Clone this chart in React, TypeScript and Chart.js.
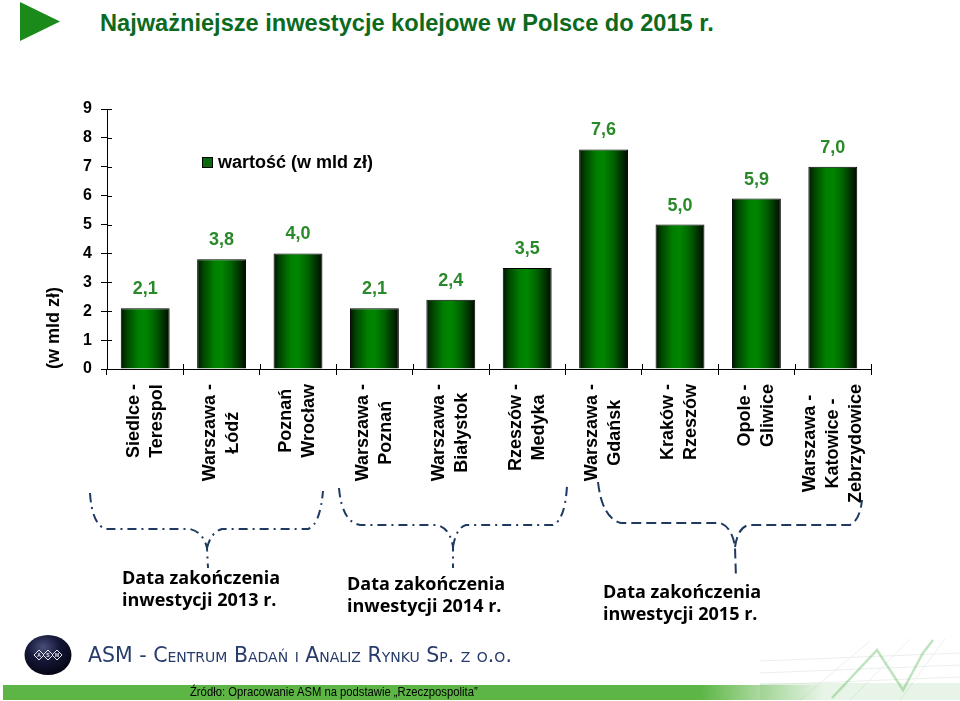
import React, { useEffect, useRef } from "react";
import { Chart, registerables } from "chart.js";
Chart.register(...registerables);

// ---------- data ----------
const TITLE = "Najważniejsze inwestycje kolejowe w Polsce do 2015 r.";
const categories: string[][] = [
  ["Siedlce -", "Terespol"],
  ["Warszawa -", "Łódź"],
  ["Poznań", "Wrocław"],
  ["Warszawa -", "Poznań"],
  ["Warszawa -", "Białystok"],
  ["Rzeszów -", "Medyka"],
  ["Warszawa -", "Gdańsk"],
  ["Kraków -", "Rzeszów"],
  ["Opole -", "Gliwice"],
  ["Warszawa -", "Katowice -", "Zebrzydowice"],
];
const values = [2.1, 3.8, 4.0, 2.1, 2.4, 3.5, 7.6, 5.0, 5.9, 7.0];
const seriesName = "wartość (w mld zł)";
const yAxisTitle = "(w mld zł)";
const yMin = 0;
const yMax = 9;
const yStep = 1;
const note2013 = ["Data zakończenia", "inwestycji 2013 r."];
const note2014 = ["Data zakończenia", "inwestycji 2014 r."];
const note2015 = ["Data zakończenia", "inwestycji 2015 r."];
const logoText = "ASM - Centrum Badań i Analiz Rynku Sp. z o.o.";
const sourceText = "Źródło: Opracowanie ASM na podstawie „Rzeczpospolita”";

// ---------- layout ----------
const W = 960;
const CH = 530;
const PLOT = { top: 109, bottom: 369, left: 107, right: 871 };
const FONT = "'Liberation Sans', Arial, Helvetica, sans-serif";
const BAR_PCT = 0.64;
const LABEL_GREEN = "#2a8a2a";
const BRACE = "#1f3a60";

const fmt = (v: number) => v.toFixed(1).replace(".", ",");

const barFill = (ctx: any) => {
  const chart = ctx.chart;
  const xs = chart.scales && chart.scales.x;
  if (!xs || ctx.type !== "data" || !chart.chartArea) return "#007700";
  const c = xs.getPixelForValue(ctx.dataIndex);
  const half = ((xs.width / categories.length) * BAR_PCT) / 2;
  const g = chart.ctx.createLinearGradient(c - half, 0, c + half, 0);
  g.addColorStop(0, "#001400");
  g.addColorStop(0.12, "#004400");
  g.addColorStop(0.35, "#007e00");
  g.addColorStop(0.5, "#008600");
  g.addColorStop(0.7, "#006200");
  g.addColorStop(0.9, "#002800");
  g.addColorStop(1, "#000a00");
  return g;
};

const decorPlugin = {
  id: "decor",
  afterDatasetsDraw(chart: any) {
    const { ctx } = chart;
    const meta = chart.getDatasetMeta(0);
    ctx.save();
    ctx.fillStyle = LABEL_GREEN;
    ctx.font = `bold 18px ${FONT}`;
    ctx.textAlign = "center";
    ctx.textBaseline = "middle";
    meta.data.forEach((bar: any, i: number) => {
      ctx.fillText(fmt(values[i]), bar.x, bar.y - 19);
    });
    ctx.restore();
  },
  afterDraw(chart: any) {
    const { ctx, chartArea } = chart;
    const xs = chart.scales.x;
    const ys = chart.scales.y;
    ctx.save();
    // inner half of crossing tick marks
    ctx.strokeStyle = "#000";
    ctx.lineWidth = 1;
    ctx.beginPath();
    ys.ticks.forEach((_t: any, i: number) => {
      const y = Math.round(ys.getPixelForTick(i)) + 0.5;
      ctx.moveTo(chartArea.left, y);
      ctx.lineTo(chartArea.left + 5, y);
    });
    for (let i = 0; i <= categories.length; i++) {
      const x = Math.round(xs.getPixelForValue(i - 0.5)) + 0.5;
      ctx.moveTo(x, chartArea.bottom);
      ctx.lineTo(x, chartArea.bottom - 5);
    }
    ctx.stroke();

    // category labels, rotated, centred lines
    ctx.fillStyle = "#000";
    ctx.font = `bold 18px ${FONT}`;
    ctx.textAlign = "center";
    ctx.textBaseline = "middle";
    const labels = chart.data.labels as string[][];
    labels.forEach((lines, i) => {
      const cx = xs.getPixelForValue(i);
      const maxW = Math.max(...lines.map((l) => ctx.measureText(l).width));
      const top = chartArea.bottom + 15;
      ctx.save();
      ctx.translate(cx, top + maxW / 2);
      ctx.rotate(-Math.PI / 2);
      lines.forEach((l, j) => {
        ctx.fillText(l, 0, (j - (lines.length - 1) / 2) * 23);
      });
      ctx.restore();
    });

    // legend
    const ds = chart.data.datasets[0];
    ctx.fillStyle = "#0a6a0a";
    ctx.fillRect(202, 157, 11, 11);
    ctx.strokeStyle = "#000";
    ctx.strokeRect(202.5, 157.5, 10, 10);
    ctx.fillStyle = "#000";
    ctx.font = `bold 18px ${FONT}`;
    ctx.textAlign = "left";
    ctx.textBaseline = "middle";
    ctx.fillText(ds.label, 218, 163);
    ctx.restore();
  },
};

function Notes({ lines, left, top }: { lines: string[]; left: number; top: number }) {
  return (
    <div
      style={{
        position: "absolute",
        left,
        top,
        fontFamily: "'Open Sans', 'DejaVu Sans', sans-serif",
        fontWeight: 700,
        fontSize: 18,
        lineHeight: "22px",
        color: "#000",
        whiteSpace: "nowrap",
      }}
    >
      {lines.map((l, i) => (
        <div key={i}>{l}</div>
      ))}
    </div>
  );
}

export default function App() {
  const ref = useRef<HTMLCanvasElement | null>(null);

  useEffect(() => {
    if (!ref.current) return;
    const chart = new Chart(ref.current, {
      type: "bar",
      data: {
        labels: categories as any,
        datasets: [
          {
            label: seriesName,
            data: values,
            backgroundColor: barFill as any,
            borderColor: "#000",
            borderWidth: 1,
            barPercentage: BAR_PCT,
            categoryPercentage: 1,
          },
        ],
      },
      options: {
        responsive: false,
        animation: false,
        devicePixelRatio: 1,
        layout: { padding: { left: 0, top: PLOT.top, right: W - PLOT.right, bottom: 0 } },
        plugins: {
          legend: { display: false },
          tooltip: { enabled: false },
          title: { display: false },
        },
        scales: {
          x: {
            offset: true,
            grid: { offset: true, drawOnChartArea: false, drawTicks: true, tickLength: 6, color: "#000" },
            border: { color: "#000", width: 1 },
            ticks: { display: false },
            afterFit: (s: any) => {
              s.height = CH - PLOT.bottom;
            },
          },
          y: {
            min: yMin,
            max: yMax,
            ticks: {
              stepSize: yStep,
              color: "#000",
              font: { family: FONT, size: 16, weight: "bold" },
              padding: 9,
            },
            grid: { drawOnChartArea: false, drawTicks: true, tickLength: 6, color: "#000" },
            border: { color: "#000", width: 1 },
            title: {
              display: true,
              text: yAxisTitle,
              align: "start",
              color: "#000",
              font: { family: FONT, size: 18, weight: "bold" },
              padding: { top: 43, bottom: 0 },
            },
            afterFit: (s: any) => {
              s.width = PLOT.left;
            },
          },
        },
      } as any,
      plugins: [decorPlugin],
    });
    return () => chart.destroy();
  }, []);

  return (
    <div style={{ position: "absolute", left: 0, top: 0, width: W, height: 701, background: "#fff", overflow: "hidden" }}>
      {/* title */}
      <svg width={70} height={50} style={{ position: "absolute", left: 0, top: 0 }}>
        <polygon points="20,2 20,41 60,21.5" fill="#1a8a1a" />
      </svg>
      <div
        style={{
          position: "absolute",
          left: 100,
          top: 8,
          fontFamily: FONT,
          fontWeight: 700,
          fontSize: 23.6,
          color: "#0b6a1e",
          whiteSpace: "nowrap",
          lineHeight: "30px",
        }}
      >
        {TITLE}
      </div>

      <canvas ref={ref} width={W} height={CH} style={{ position: "absolute", left: 0, top: 0, width: W, height: CH }} />

      {/* braces */}
      <svg width={W} height={701} style={{ position: "absolute", left: 0, top: 0, pointerEvents: "none" }}>
        <g fill="none" stroke={BRACE} strokeWidth={2}>
          <path
            strokeDasharray="9 5 2 5"
            d="M 90 493 Q 92 525 106 529 L 190 529 Q 203 532 207 548 L 208 568 M 207 548 Q 211 532 222 529 L 308 529 Q 320 525 323 491"
          />
          <path
            strokeDasharray="9 5 2 5"
            d="M 339 488 Q 342 522 360 525 L 437 525 Q 450 528 453 547 L 453 568 M 453 547 Q 456 528 466 525 L 553 525 Q 565 520 567 486"
          />
          <path
            strokeDasharray="10 5"
            d="M 598 482 Q 602 518 621 523 L 720 523 Q 732 527 735 547 L 736 578 M 735 547 Q 738 527 749 525 L 850 525 Q 860 520 862 500"
          />
        </g>
      </svg>

      <Notes lines={note2013} left={122} top={566} />
      <Notes lines={note2014} left={347} top={572} />
      <Notes lines={note2015} left={603} top={580} />

      {/* bottom-right decoration (faint) */}
      <svg width={200} height={70} style={{ position: "absolute", left: 760, top: 631 }}>
        <g stroke="#dde6dd" strokeWidth={1} opacity={0.6}>
          <line x1={0} y1={30} x2={200} y2={22} />
          <line x1={0} y1={42} x2={200} y2={34} />
          <line x1={0} y1={54} x2={200} y2={46} />
          <line x1={40} y1={69} x2={110} y2={10} />
          <line x1={90} y1={69} x2={150} y2={8} />
          <line x1={140} y1={69} x2={185} y2={8} />
        </g>
        <rect x={0} y={52} width={200} height={17} fill="#9fd49f" opacity={0.25} />
        <polyline points="72,67 117,19 143,59 163,22 173,9" fill="none" stroke="#5cb85c" strokeWidth={2.5} opacity={0.4} />
      </svg>

      {/* logo */}
      <svg width={60} height={56} style={{ position: "absolute", left: 20, top: 628 }}>
        <defs>
          <radialGradient id="sph" cx="40%" cy="30%" r="75%">
            <stop offset="0%" stopColor="#4a4f7a" />
            <stop offset="45%" stopColor="#151838" />
            <stop offset="100%" stopColor="#03040f" />
          </radialGradient>
        </defs>
        <ellipse cx={28} cy={27} rx={23.5} ry={20} fill="url(#sph)" />
        <g fill="none" stroke="#e8e8f0" strokeWidth={1}>
          <polygon points="14,27 19,22 24,27 19,32" />
          <polygon points="23,27 28,22 33,27 28,32" />
          <polygon points="32,27 37,22 42,27 37,32" />
        </g>
        <g fill="#e8e8f0" fontFamily={FONT} fontSize={5} fontWeight={700} textAnchor="middle">
          <text x={19} y={29}>A</text>
          <text x={28} y={29}>S</text>
          <text x={37} y={29}>M</text>
        </g>
      </svg>
      <div
        style={{
          position: "absolute",
          left: 88,
          top: 642,
          fontFamily: "'DejaVu Sans', sans-serif",
          fontVariant: "small-caps",
          fontSize: 20.5,
          lineHeight: "26px",
          color: "#283c6c",
          whiteSpace: "nowrap",
        }}
      >
        {logoText}
      </div>

      {/* source bar */}
      <div
        style={{
          position: "absolute",
          left: 3,
          top: 685,
          width: 820,
          height: 15,
          background: "linear-gradient(to right, #5cb544 0%, #5cb544 85%, rgba(92,181,68,0) 100%)",
        }}
      />
      <div
        style={{
          position: "absolute",
          left: 190,
          top: 685,
          fontFamily: FONT,
          fontSize: 12.5,
          lineHeight: "15px",
          color: "#000",
          whiteSpace: "nowrap",
          transform: "scaleX(0.9)",
          transformOrigin: "left center",
        }}
      >
        {sourceText}
      </div>
    </div>
  );
}
